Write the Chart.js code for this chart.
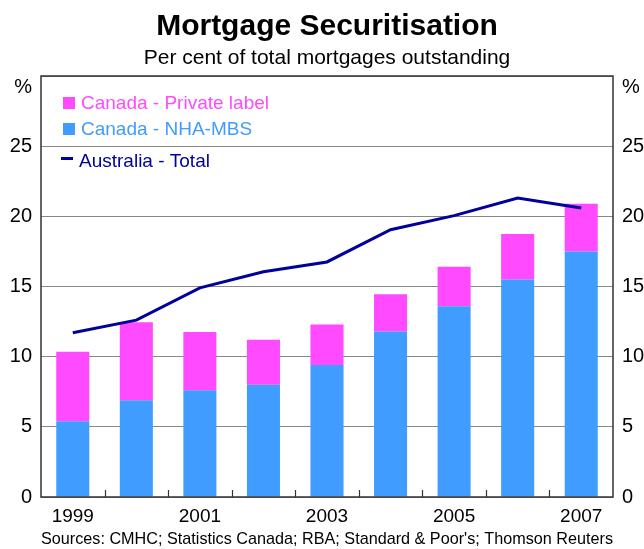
<!DOCTYPE html>
<html>
<head>
<meta charset="utf-8">
<script src="https://cdn.jsdelivr.net/npm/chart.js@4.4.1/dist/chart.umd.min.js"></script>
<style>
  html, body { margin: 0; padding: 0; background: #ffffff; }
  #wrap { width: 644px; height: 549px; position: relative; }
</style>
</head>
<body>
<div id="wrap"><canvas id="c" width="644" height="549"></canvas></div>
<script>
const years = ['1999', '2000', '2001', '2002', '2003', '2004', '2005', '2006', '2007'];
const shownYears = ['1999', '2001', '2003', '2005', '2007'];
const canadaNhaMbs = [5.4, 6.9, 7.6, 8.0, 9.4, 11.8, 13.6, 15.5, 17.5];
const canadaPrivate = [4.95, 5.55, 4.15, 3.2, 2.9, 2.65, 2.8, 3.25, 3.4];
const australiaTotal = [11.7, 12.6, 14.9, 16.05, 16.75, 19.05, 20.05, 21.3, 20.6];
const yTicks = [0, 5, 10, 15, 20, 25, 30];

const FONT = "'Liberation Sans', Arial, Helvetica, sans-serif";
const PINK = '#FF4AFF';
const BLUE = '#409CFF';
const NAVY = '#00009C';

const decorPlugin = {
  id: 'decor',
  afterDatasetsDraw(chart) {
    const { ctx, chartArea: a, scales } = chart;
    const xs = scales.x;
    ctx.save();
    // inward tick marks at category boundaries
    ctx.strokeStyle = '#333333';
    ctx.lineWidth = 1.2;
    for (let i = 1; i < years.length; i++) {
      const px = Math.round((xs.getPixelForValue(i - 1) + xs.getPixelForValue(i)) / 2) + 0.5;
      ctx.beginPath();
      ctx.moveTo(px, a.bottom);
      ctx.lineTo(px, a.bottom - 7);
      ctx.stroke();
    }
    // frame
    ctx.strokeStyle = '#333333';
    ctx.lineWidth = 1.5;
    ctx.strokeRect(a.left, a.top, a.right - a.left, a.bottom - a.top);
    // unit labels
    ctx.fillStyle = '#000000';
    ctx.font = '20px ' + FONT;
    ctx.textBaseline = 'middle';
    ctx.textAlign = 'right';
    ctx.fillText('%', a.left - 9, a.top + 11);
    ctx.textAlign = 'left';
    ctx.fillText('%', a.right + 9, a.top + 11);
    // legend
    const ds = chart.data.datasets;
    const items = [
      { label: ds[1].label, color: PINK, kind: 'box', y: 103 },
      { label: ds[0].label, color: BLUE, kind: 'box', y: 129 },
      { label: ds[2].label, color: NAVY, kind: 'line', y: 161 }
    ];
    ctx.font = '19px ' + FONT;
    ctx.textAlign = 'left';
    items.forEach(it => {
      ctx.fillStyle = it.color;
      if (it.kind === 'box') {
        ctx.fillRect(a.left + 22, it.y - 6, 12, 12);
        ctx.fillText(it.label, a.left + 40, it.y + 1);
      } else {
        ctx.fillRect(a.left + 20, it.y - 4, 12, 3);
        ctx.fillText(it.label, a.left + 38, it.y + 1);
      }
    });
    ctx.restore();
  }
};

new Chart(document.getElementById('c'), {
  data: {
    labels: years,
    datasets: [
      {
        type: 'bar',
        label: 'Canada - NHA-MBS',
        data: canadaNhaMbs,
        backgroundColor: BLUE,
        stack: 'canada',
        order: 2,
        barPercentage: 1,
        categoryPercentage: 0.52,
        yAxisID: 'y'
      },
      {
        type: 'bar',
        label: 'Canada - Private label',
        data: canadaPrivate,
        backgroundColor: PINK,
        stack: 'canada',
        order: 2,
        barPercentage: 1,
        categoryPercentage: 0.52,
        yAxisID: 'y'
      },
      {
        type: 'line',
        label: 'Australia - Total',
        data: australiaTotal,
        borderColor: NAVY,
        backgroundColor: NAVY,
        borderWidth: 3,
        pointRadius: 0,
        tension: 0,
        stack: 'aus',
        order: 1,
        yAxisID: 'y'
      }
    ]
  },
  options: {
    responsive: false,
    animation: false,
    devicePixelRatio: 1,
    layout: { padding: { left: 0, right: 0, top: 0, bottom: 0 } },
    plugins: {
      legend: { display: false },
      tooltip: { enabled: false },
      title: {
        display: true,
        fullSize: false,
        text: 'Mortgage Securitisation',
        color: '#000000',
        font: { family: FONT, size: 30, weight: 'bold' },
        padding: { top: 9, bottom: 0 }
      },
      subtitle: {
        display: true,
        fullSize: false,
        text: 'Per cent of total mortgages outstanding',
        color: '#000000',
        font: { family: FONT, size: 21 },
        padding: { top: 1, bottom: 4.8 }
      }
    },
    scales: {
      x: {
        stacked: true,
        grid: { display: false, drawTicks: false },
        border: { display: false },
        ticks: {
          autoSkip: false,
          maxRotation: 0,
          padding: 8,
          color: '#000000',
          font: { family: FONT, size: 19 },
          callback: function (v, i) {
            const lab = years[i];
            return shownYears.includes(lab) ? lab : '';
          }
        },
        title: {
          display: true,
          text: "Sources: CMHC; Statistics Canada; RBA; Standard & Poor's; Thomson Reuters",
          color: '#000000',
          font: { family: FONT, size: 16.6 },
          padding: { top: 0, bottom: 0 }
        },
        afterFit: s => { s.height = 52; }
      },
      y: {
        stacked: true,
        position: 'left',
        min: 0,
        max: 30,
        afterBuildTicks: s => { s.ticks = yTicks.map(v => ({ value: v })); },
        grid: { color: '#888888', lineWidth: 1, drawTicks: false },
        border: { display: false },
        ticks: {
          padding: 9,
          color: '#000000',
          font: { family: FONT, size: 20 },
          callback: v => (v === 30 ? '' : String(v))
        },
        afterFit: s => { s.width = 41; }
      },
      y2: {
        position: 'right',
        min: 0,
        max: 30,
        afterBuildTicks: s => { s.ticks = yTicks.map(v => ({ value: v })); },
        grid: { display: false, drawTicks: false },
        border: { display: false },
        ticks: {
          padding: 9,
          color: '#000000',
          font: { family: FONT, size: 20 },
          callback: v => (v === 30 ? '' : String(v))
        },
        afterFit: s => { s.width = 31; }
      }
    }
  },
  plugins: [decorPlugin]
});
</script>
</body>
</html>
